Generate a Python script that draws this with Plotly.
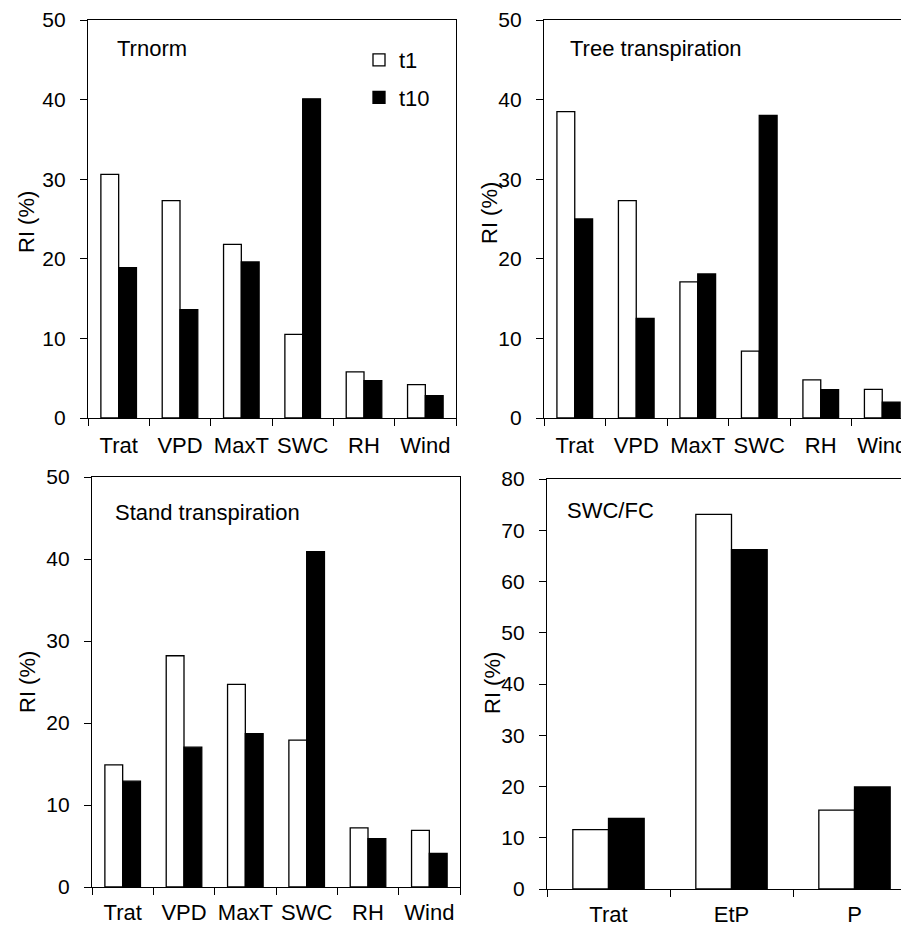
import plotly.graph_objects as go

# ---- data ----
cats6 = ["Trat", "VPD", "MaxT", "SWC", "RH", "Wind"]
cats3 = ["Trat", "EtP", "P"]

trnorm_t1 = [30.6, 27.3, 21.8, 10.5, 5.8, 4.2]
trnorm_t10 = [18.9, 13.6, 19.6, 40.1, 4.7, 2.8]

tree_t1 = [38.5, 27.3, 17.1, 8.4, 4.8, 3.6]
tree_t10 = [25.0, 12.5, 18.1, 38.0, 3.55, 2.0]

stand_t1 = [14.9, 28.2, 24.7, 17.9, 7.2, 6.9]
stand_t10 = [12.9, 17.05, 18.7, 40.9, 5.9, 4.1]

swcfc_t1 = [11.6, 73.1, 15.4]
swcfc_t10 = [13.8, 66.2, 19.9]

panel_titles = ["Trnorm", "Tree transpiration", "Stand transpiration", "SWC/FC"]
series_names = ["t1", "t10"]

# page has an 8px body margin; the figure is laid out in its own pixel frame
OFF = 8
W, H = 909 - OFF, 926 - OFF
FONT = "Liberation Sans, Arial, sans-serif"

fig = go.Figure()

panels = [
    (cats6, trnorm_t1, trnorm_t10, "x", "y"),
    (cats6, tree_t1, tree_t10, "x2", "y2"),
    (cats6, stand_t1, stand_t10, "x3", "y3"),
    (cats3, swcfc_t1, swcfc_t10, "x4", "y4"),
]

for i, (cats, a, b, xa, ya) in enumerate(panels):
    fig.add_trace(go.Bar(x=cats, y=a, name=series_names[0], xaxis=xa, yaxis=ya,
                         marker=dict(color="white", line=dict(color="black", width=1.3)),
                         showlegend=(i == 0), legendgroup="g1"))
    fig.add_trace(go.Bar(x=cats, y=b, name=series_names[1], xaxis=xa, yaxis=ya,
                         marker=dict(color="black", line=dict(color="black", width=1.3)),
                         showlegend=(i == 0), legendgroup="g2"))

def px_dom_x(a, b):
    return [(a - OFF) / W, min((b - OFF) / W, 1.0)]

def px_dom_y(top, bottom):
    return [1 - (bottom - OFF) / H, 1 - (top - OFF) / H]

def px_x(v):
    return (v - OFF) / W

def px_y(v):
    return 1 - (v - OFF) / H

common_x = dict(showline=True, linecolor="black", linewidth=1.3, showgrid=False, zeroline=False,
                ticks="outside", ticklen=7, tickcolor="black", tickwidth=1.3, tickson="boundaries",
                tickangle=0, automargin=False,
                tickfont=dict(family=FONT, size=22, color="black"), ticklabelstandoff=7,
                fixedrange=True)
common_y = dict(showline=True, linecolor="black", linewidth=1.3, showgrid=False, zeroline=False,
                ticks="outside", ticklen=7, tickcolor="black", tickwidth=1.3, automargin=False,
                tickfont=dict(family=FONT, size=21, color="black"), ticklabelstandoff=10,
                dtick=10, fixedrange=True)

fig.update_layout(
    xaxis=dict(common_x, domain=px_dom_x(88, 456), anchor="y", range=[-0.5, 5.5], mirror=True),
    yaxis=dict(common_y, domain=px_dom_y(20, 418), anchor="x", range=[0, 50], mirror=True),
    xaxis2=dict(common_x, domain=px_dom_x(544, 909), anchor="y2", range=[-0.5, -0.5 + 365 / 61.5], mirror=True),
    yaxis2=dict(common_y, domain=px_dom_y(20, 418), anchor="x2", range=[0, 50], mirror=False),
    xaxis3=dict(common_x, domain=px_dom_x(92, 460), anchor="y3", range=[-0.5, 5.5], mirror=True,
                ticklabelstandoff=5),
    yaxis3=dict(common_y, domain=px_dom_y(477, 887), anchor="x3", range=[0, 50], mirror=True),
    xaxis4=dict(common_x, domain=px_dom_x(547, 909), anchor="y4", range=[-0.5, -0.5 + 362 / 123], mirror=True,
                ticklabelstandoff=5),
    yaxis4=dict(common_y, domain=px_dom_y(479, 889), anchor="x4", range=[0, 80], mirror=False),
)

fig.update_layout(
    width=W, height=H,
    margin=dict(l=0, r=0, t=0, b=0, autoexpand=False),
    paper_bgcolor="white", plot_bgcolor="white",
    barmode="group", bargap=0.42, bargroupgap=0,
    font=dict(family=FONT, size=22, color="black"),
    legend=dict(x=px_x(359), y=px_y(39), xanchor="left", yanchor="top",
                bgcolor="rgba(0,0,0,0)", font=dict(family=FONT, size=22, color="black"),
                tracegroupgap=6, itemclick=False, itemdoubleclick=False),
)

# panel titles
title_pos = [(115, 49), (568, 48), (113, 512), (565, 510)]
for t, (px, py) in zip(panel_titles, title_pos):
    fig.add_annotation(text=t, xref="paper", yref="paper", x=px_x(px), y=px_y(py),
                       xanchor="left", yanchor="middle", showarrow=False,
                       font=dict(family=FONT, size=22, color="black"))

# y-axis titles
ytitle_pos = [(26, 222), (490, 213), (27, 682), (492, 683)]
for (px, py) in ytitle_pos:
    fig.add_annotation(text="RI (%)", xref="paper", yref="paper", x=px_x(px), y=px_y(py),
                       xanchor="center", yanchor="middle", textangle=-90, showarrow=False,
                       font=dict(family=FONT, size=22, color="black"))

fig.write_html("out.html", config={"displayModeBar": False})
